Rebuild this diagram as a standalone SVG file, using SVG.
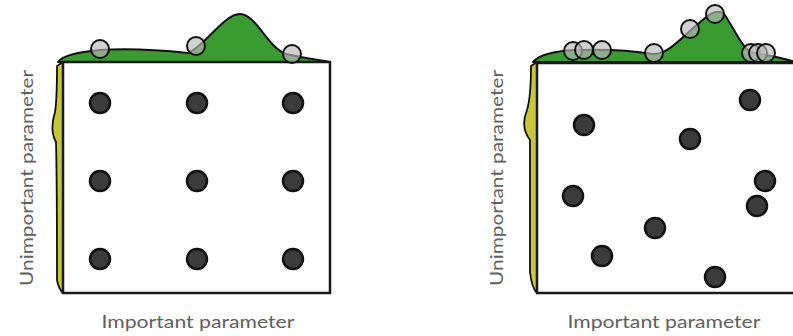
<svg xmlns="http://www.w3.org/2000/svg" width="793" height="336" viewBox="0 0 793 336">
<style>
.box{fill:#fff;stroke:#1a1a1a;stroke-width:2.5}
.green{fill:#3a9c30;stroke:#111;stroke-width:2;stroke-linejoin:round}
.yellow{fill:#c9c63a;stroke:#111;stroke-width:1.8;stroke-linejoin:round}
.dot{fill:#3b3b3b;stroke:#111;stroke-width:2.5}
.ring{fill:#b8b8b8;fill-opacity:0.65;stroke:#111;stroke-width:2}
.lbl{font-family:"Lato","DejaVu Sans",sans-serif;font-size:17px;fill:#606060}
</style>
<g id="grid-panel">
  <path class="green" d="M58,62 C62,56 78,52 100,50 C130,48 160,50 188,53 C205,46 224,14 240,14 C256,14 268,48 286,54 C304,58 320,60 330,62 Z"/>
  <path class="yellow" d="M63,62 L57,66 C57,80 57,100 55,112 C51,125 52,135 56,142 C57,180 57,240 57,280 C58,286 61,291 63,293 Z"/>
  <rect class="box" x="63" y="62" width="267" height="231"/>
  <circle class="ring" cx="100" cy="49" r="9"/>
  <circle class="ring" cx="196" cy="46" r="9"/>
  <circle class="ring" cx="292" cy="54" r="9"/>
  <circle class="dot" cx="100" cy="103" r="10"/>
  <circle class="dot" cx="197" cy="103" r="10"/>
  <circle class="dot" cx="293" cy="103" r="10"/>
  <circle class="dot" cx="100" cy="181" r="10"/>
  <circle class="dot" cx="197" cy="181" r="10"/>
  <circle class="dot" cx="293" cy="181" r="10"/>
  <circle class="dot" cx="100" cy="259" r="10"/>
  <circle class="dot" cx="197" cy="259" r="10"/>
  <circle class="dot" cx="293" cy="259" r="10"/>
  <text class="lbl" x="198" y="328" text-anchor="middle" textLength="193" lengthAdjust="spacingAndGlyphs">Important parameter</text>
  <text class="lbl" transform="translate(33,178) rotate(-90)" x="0" y="0" text-anchor="middle" textLength="216" lengthAdjust="spacingAndGlyphs">Unimportant parameter</text>
</g>
<g id="random-panel">
  <path class="green" d="M533,62 C540,54 555,51 575,50 C605,49 635,51 653,54 C668,55 684,35 698,24 C708,15 716,8 724,14 C732,24 740,45 750,52 C765,55 780,57 795,62 Z"/>
  <path class="yellow" d="M537,62 L531,66 C531,80 530,100 527,110 C522,122 524,132 530,140 C530,180 530,240 530,272 C531,282 534,290 537,293 Z"/>
  <path class="box" d="M800,63 L537,63 L537,293 L800,293"/>
  <circle class="ring" cx="573" cy="51" r="9"/>
  <circle class="ring" cx="584" cy="50" r="9"/>
  <circle class="ring" cx="602" cy="50" r="9"/>
  <circle class="ring" cx="654" cy="53" r="9"/>
  <circle class="ring" cx="690" cy="29" r="9"/>
  <circle class="ring" cx="715" cy="14" r="9"/>
  <circle class="ring" cx="751" cy="53" r="9"/>
  <circle class="ring" cx="758" cy="53" r="9"/>
  <circle class="ring" cx="766" cy="53" r="9"/>
  <circle class="dot" cx="750" cy="100" r="10"/>
  <circle class="dot" cx="584" cy="125" r="10"/>
  <circle class="dot" cx="690" cy="139" r="10"/>
  <circle class="dot" cx="573" cy="196" r="10"/>
  <circle class="dot" cx="765" cy="181" r="10"/>
  <circle class="dot" cx="757" cy="206" r="10"/>
  <circle class="dot" cx="655" cy="228" r="10"/>
  <circle class="dot" cx="602" cy="256" r="10"/>
  <circle class="dot" cx="715" cy="277" r="10"/>
  <text class="lbl" x="664" y="328" text-anchor="middle" textLength="193" lengthAdjust="spacingAndGlyphs">Important parameter</text>
  <text class="lbl" transform="translate(503,178) rotate(-90)" x="0" y="0" text-anchor="middle" textLength="216" lengthAdjust="spacingAndGlyphs">Unimportant parameter</text>
</g>
</svg>
